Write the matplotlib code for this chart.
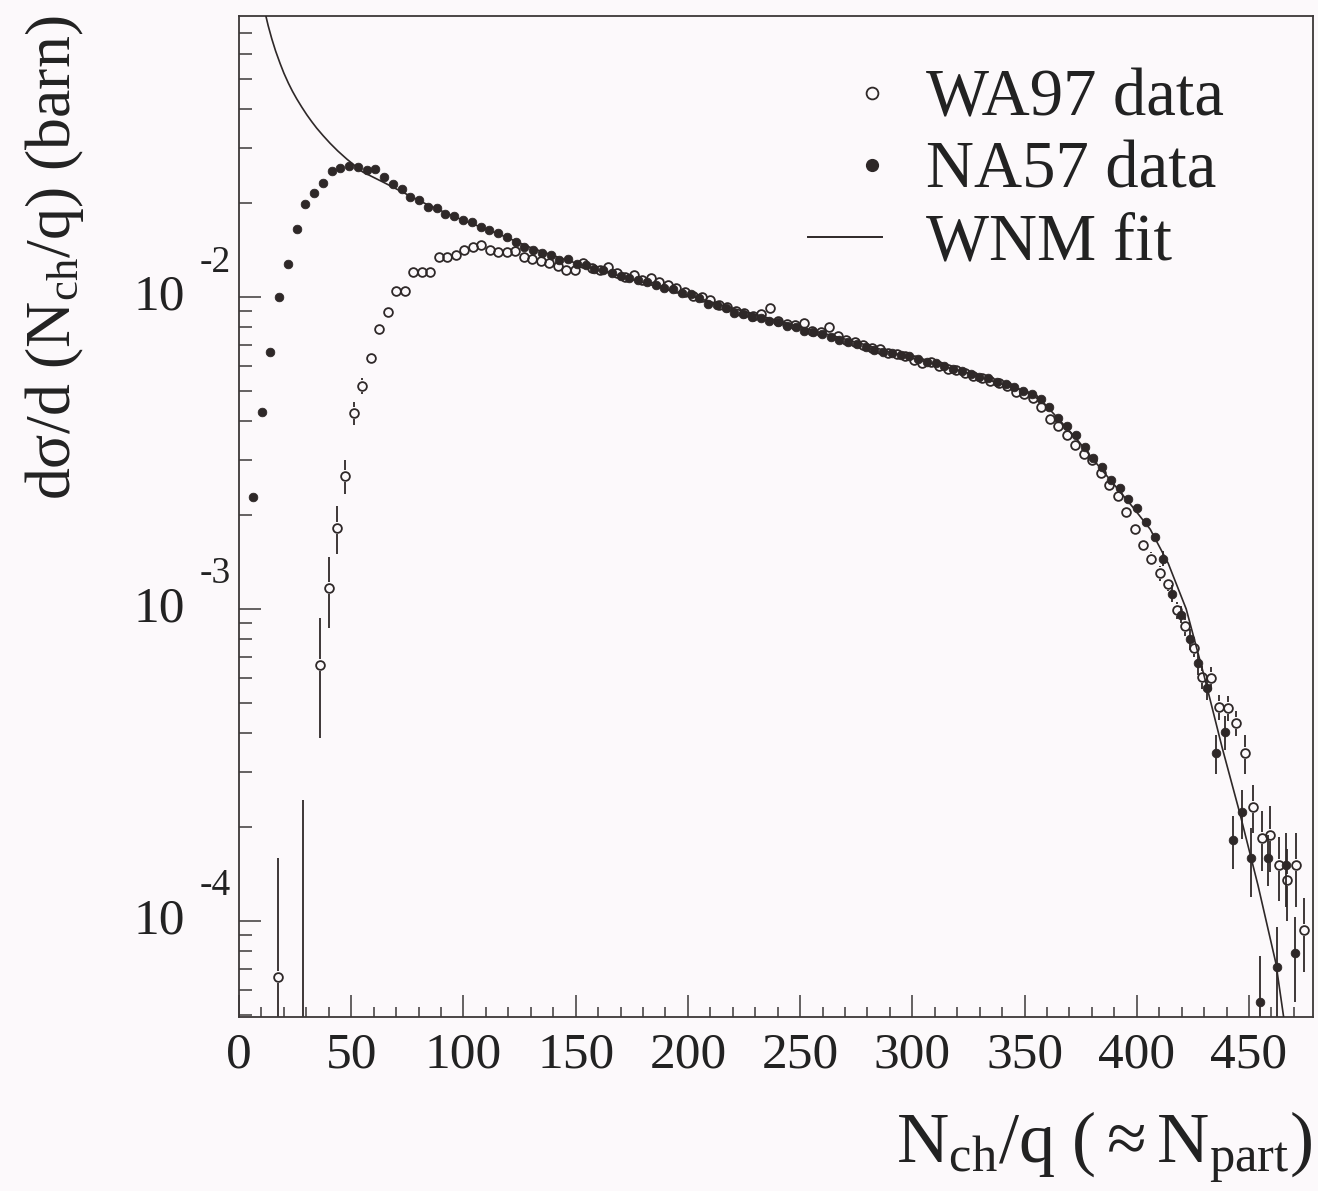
"""
Centrality distribution d(sigma)/d(Nch/q) for WA97 and NA57 with WNM fit.
Output: out.png (1318x1191)
"""

import numpy as np
import matplotlib
matplotlib.use("Agg")
import matplotlib.pyplot as plt
from matplotlib.ticker import MultipleLocator, FixedLocator, LogLocator, NullFormatter

# -- Data --------------------------------------------------------------------

# NA57: bin centres start at 6.2, step 3.9
NA57_X0, NA57_DX = 6.2, 3.9
na57_y = [
    2.29e-3, 4.28e-3, 6.67e-3, 1.00e-2, 1.28e-2, 1.65e-2, 1.99e-2, 2.15e-2, 2.32e-2, 2.53e-2,
    2.60e-2, 2.64e-2, 2.62e-2, 2.55e-2, 2.58e-2, 2.42e-2, 2.30e-2, 2.22e-2, 2.10e-2, 2.05e-2,
    1.95e-2, 1.93e-2, 1.84e-2, 1.82e-2, 1.76e-2, 1.74e-2, 1.68e-2, 1.64e-2, 1.60e-2, 1.56e-2,
    1.50e-2, 1.45e-2, 1.42e-2, 1.38e-2, 1.36e-2, 1.31e-2, 1.32e-2, 1.28e-2, 1.27e-2, 1.23e-2,
    1.22e-2, 1.19e-2, 1.17e-2, 1.15e-2, 1.13e-2, 1.12e-2, 1.09e-2, 1.07e-2, 1.06e-2, 1.03e-2,
    1.02e-2, 9.9e-3, 9.5e-3, 9.4e-3, 9.2e-3, 8.9e-3, 8.85e-3, 8.6e-3, 8.55e-3, 8.4e-3,
    8.3e-3, 8.1e-3, 8.0e-3, 7.8e-3, 7.7e-3, 7.6e-3, 7.45e-3, 7.3e-3, 7.2e-3, 7.05e-3,
    6.9e-3, 6.75e-3, 6.65e-3, 6.6e-3, 6.5e-3, 6.45e-3, 6.35e-3, 6.2e-3, 6.15e-3, 6.0e-3,
    5.9e-3, 5.8e-3, 5.65e-3, 5.55e-3, 5.5e-3, 5.35e-3, 5.25e-3, 5.15e-3, 5.0e-3, 4.9e-3,
    4.7e-3, 4.45e-3, 4.1e-3, 3.85e-3, 3.6e-3, 3.3e-3, 3.05e-3, 2.85e-3, 2.6e-3, 2.45e-3,
    2.25e-3, 2.1e-3, 1.9e-3, 1.7e-3, 1.45e-3, 1.12e-3, 9.6e-4, 8.0e-4, 6.7e-4, 5.6e-4,
    3.45e-4, 4.04e-4, 1.82e-4, 2.23e-4, 1.59e-4, 5.5e-5, 1.59e-4, 7.13e-5, 1.51e-4, 7.9e-5,
]
# errors of the last 16 NA57 bins (smaller ones are hidden by the markers)
na57_err_tail = [8e-5, 7e-5, 6e-5, 6e-5, 5.5e-5, 5e-5, 5e-5, 5e-5,
                 3.5e-5, 4e-5, 4e-5, 2.2e-5, 3e-5, 2.4e-5, 4e-5, 2.4e-5]

# WA97: bin centres start at 17.2, step 3.78 (nan = not visible)
WA97_X0, WA97_DX = 17.2, 3.78
wa97_y = [
    6.6e-5, np.nan, np.nan, 4.0e-5, np.nan, 6.62e-4, 1.17e-3, 1.82e-3, 2.67e-3, 4.25e-3,
    5.19e-3, 6.37e-3, 7.89e-3, 8.95e-3, 1.045e-2, 1.045e-2, 1.20e-2, 1.20e-2, 1.20e-2, 1.34e-2,
    1.34e-2, 1.36e-2, 1.42e-2, 1.45e-2, 1.47e-2, 1.42e-2, 1.39e-2, 1.39e-2, 1.40e-2, 1.34e-2,
    1.32e-2, 1.30e-2, 1.29e-2, 1.26e-2, 1.22e-2, 1.22e-2, 1.285e-2, 1.24e-2, 1.22e-2, 1.25e-2,
    1.19e-2, 1.16e-2, 1.18e-2, 1.13e-2, 1.15e-2, 1.12e-2, 1.09e-2, 1.07e-2, 1.04e-2, 1.01e-2,
    1.00e-2, 9.8e-3, 9.4e-3, 9.3e-3, 9.0e-3, 8.9e-3, 8.7e-3, 8.8e-3, 9.2e-3, 8.4e-3,
    8.2e-3, 8.15e-3, 8.26e-3, 7.8e-3, 7.7e-3, 8.0e-3, 7.5e-3, 7.3e-3, 7.2e-3, 7.0e-3,
    6.85e-3, 6.8e-3, 6.6e-3, 6.55e-3, 6.45e-3, 6.3e-3, 6.15e-3, 6.2e-3, 6.0e-3, 5.9e-3,
    5.85e-3, 5.7e-3, 5.6e-3, 5.5e-3, 5.4e-3, 5.3e-3, 5.2e-3, 4.95e-3, 4.9e-3, 4.75e-3,
    4.45e-3, 4.05e-3, 3.85e-3, 3.6e-3, 3.35e-3, 3.15e-3, 3.0e-3, 2.73e-3, 2.5e-3, 2.3e-3,
    2.05e-3, 1.8e-3, 1.6e-3, 1.45e-3, 1.3e-3, 1.2e-3, 9.9e-4, 8.8e-4, 7.5e-4, 6.05e-4,
    6.0e-4, 4.85e-4, 4.82e-4, 4.31e-4, 3.45e-4, 2.32e-4, 1.85e-4, 1.89e-4, 1.51e-4, 1.35e-4,
    1.51e-4, 9.35e-5,
]
wa97_err_head = [9.3e-5, 0, 0, 2.04e-4, 0, 2.75e-4, 3.0e-4, 3.2e-4, 3.3e-4, 3.5e-4, 3.0e-4, 2.5e-4]
wa97_err_tail = [7e-5, 7e-5, 6e-5, 6e-5, 6e-5, 5e-5, 5e-5, 5e-5, 4.5e-5, 4.5e-5,
                 4e-5, 5e-5, 4e-5, 4e-5, 4.5e-5, 3.5e-5, 3.5e-5, 4e-5, 2.5e-5]

# WNM fit curve
fit_x = [11.9, 13.0, 14.6, 16.3, 18.3, 20.0, 22.0, 23.8, 25.7, 28.0, 30.2, 32.4, 34.6,
         37.5, 40.6, 44.0, 48.0, 55.0, 65.0, 75.0, 85.0,
         100, 115, 130, 145, 160, 175, 190, 205, 220, 235, 250, 265, 280, 295, 310, 325,
         340, 350, 358, 366, 374, 382, 390, 398, 406, 414, 422, 430, 438, 446, 454, 462, 466]
fit_y = [0.0800, 0.0741, 0.0673, 0.0615, 0.0561, 0.0522, 0.0485, 0.0457, 0.0432, 0.0406,
         0.0384, 0.0365, 0.0348, 0.0329, 0.0311, 0.0294, 0.0277, 0.0252, 0.0232, 0.0213,
         0.0196, 0.0176, 0.0160, 0.0144, 0.0132, 0.0122, 0.0114, 0.0106,
         0.0099, 0.0092, 0.0086, 0.0080, 0.0075, 0.0070, 0.0065, 0.0061, 0.0057, 0.00525,
         0.0050, 0.00462, 0.0040, 0.00345, 0.00293, 0.0025, 0.00213, 0.0018, 0.0014, 0.0010,
         6.1e-4, 3.6e-4, 2.2e-4, 1.3e-4, 7.3e-5, 4.6e-5]

y_decades = [1e-4, 1e-3, 1e-2]
y_exponents = ["-4", "-3", "-2"]

legend_labels = ["WA97 data", "NA57 data", "WNM fit"]

# -- Style -------------------------------------------------------------------

plt.rcParams["font.family"] = ["Liberation Serif", "DejaVu Serif"]
plt.rcParams["mathtext.fontset"] = "custom"
plt.rcParams["mathtext.rm"] = "Liberation Serif"
plt.rcParams["mathtext.it"] = "Liberation Serif:italic"
plt.rcParams["mathtext.bf"] = "Liberation Serif:bold"

BG = "#fcf9fb"
INK = "#2e2828"
AXC = "#3c3838"
TXT = "#222222"
W, H = 1318, 1191


def vbar(ax, x, y, lo, hi, gap):
    # error bar drawn outside the marker, like ROOT does
    ok = np.isfinite(y) & (hi > y)
    x, y, lo, hi = x[ok], y[ok], lo[ok], hi[ok]
    lo = np.maximum(lo, 1e-8)
    up = hi > y * gap
    ax.vlines(x[up], (y * gap)[up], hi[up], color=INK, lw=1.3, zorder=2)
    dn = lo < y / gap
    ax.vlines(x[dn], lo[dn], (y / gap)[dn], color=INK, lw=1.3, zorder=2)


# -- Figure ------------------------------------------------------------------

fig = plt.figure(figsize=(W / 100, H / 100), dpi=100, facecolor=BG)
ax = fig.add_axes([239 / W, 1 - 1017 / H, (1313 - 239) / W, (1017 - 16) / H])
ax.set_facecolor(BG)
ax.set_yscale("log")
ax.set_xlim(0, 478.5)
ax.set_ylim(4.92e-5, 0.0796)

# WA97 (open circles)
wy = np.array(wa97_y, dtype=float)
wx = WA97_X0 + WA97_DX * np.arange(len(wy))
we = np.zeros(len(wy))
we[:len(wa97_err_head)] = wa97_err_head
we[len(wy) - len(wa97_err_tail):] = wa97_err_tail
vbar(ax, wx, wy, wy - we, wy + we, 1.045)
ax.plot(wx, wy, ls="none", marker="o", ms=6.3, mfc="none", mec=INK, mew=1.3, zorder=4)

# NA57 (filled circles)
ny = np.array(na57_y, dtype=float)
nx = NA57_X0 + NA57_DX * np.arange(len(ny))
ne = np.zeros(len(ny))
ne[len(ny) - len(na57_err_tail):] = na57_err_tail
vbar(ax, nx, ny, ny - ne, ny + ne, 1.0)
ax.plot(nx, ny, ls="none", marker="o", ms=6.2, mfc=INK, mec=INK, mew=0.6, zorder=3)

# WNM fit
ax.plot(fit_x, fit_y, color=INK, lw=1.2, zorder=5)

# -- Axes --------------------------------------------------------------------

for side in ["left", "bottom", "top", "right"]:
    ax.spines[side].set_color(AXC)
    ax.spines[side].set_linewidth(1.3)

ax.xaxis.set_major_locator(MultipleLocator(50))
ax.xaxis.set_minor_locator(MultipleLocator(10))
ax.yaxis.set_major_locator(FixedLocator(y_decades))
ax.yaxis.set_minor_locator(LogLocator(base=10, subs=np.arange(2, 10)))
ax.yaxis.set_major_formatter(NullFormatter())
ax.yaxis.set_minor_formatter(NullFormatter())

ax.tick_params(axis="x", which="major", direction="in", length=16, width=1.1,
               color=AXC, labelsize=37, labelcolor=TXT, pad=11, top=False)
ax.tick_params(axis="x", which="minor", direction="in", length=7.5, width=1.1,
               color=AXC, top=False)
ax.tick_params(axis="y", which="major", direction="in", length=16, width=1.1,
               color=AXC, right=False)
ax.tick_params(axis="y", which="minor", direction="in", length=9.5, width=1.1,
               color=AXC, right=False)

# y tick labels "10" with exponent above-right
for val, ex in zip(y_decades, y_exponents):
    ax.annotate("10", xy=(0, val), xycoords=("axes fraction", "data"),
                xytext=(-39, 0), textcoords="offset points",
                ha="right", va="center", fontsize=37, color=TXT)
    ax.annotate(ex, xy=(0, val), xycoords=("axes fraction", "data"),
                xytext=(-28, 25), textcoords="offset points",
                ha="left", va="center", fontsize=27, color=TXT)

# axis titles
fig.text(55 / W, 1 - 258 / H, r"$\mathrm{dσ/d\ (N_{ch}/q)\ (barn)}$",
         rotation=90, ha="center", va="center", fontsize=46, color=TXT)
fig.text(1312 / W, 1 - 1163 / H, r"$\mathrm{N_{ch}/q\ (\approx N_{part})}$",
         ha="right", va="baseline", fontsize=52, color=TXT)

# -- Legend (drawn by hand, ROOT style) --------------------------------------

ax.plot([0.589], [0.923], transform=ax.transAxes, marker="o", ms=8.5,
        mfc="none", mec=INK, mew=1.3, ls="none")
ax.plot([0.589], [0.851], transform=ax.transAxes, marker="o", ms=8.5,
        mfc=INK, mec=INK, ls="none")
ax.plot([0.530, 0.599], [0.779, 0.779], transform=ax.transAxes, color=INK, lw=1.4)
for yy, lab in zip([0.901, 0.829, 0.757], legend_labels):
    ax.text(0.640, yy, lab, transform=ax.transAxes, fontsize=48,
            va="baseline", ha="left", color=TXT)

fig.savefig("out.png", dpi=100, facecolor=BG)
